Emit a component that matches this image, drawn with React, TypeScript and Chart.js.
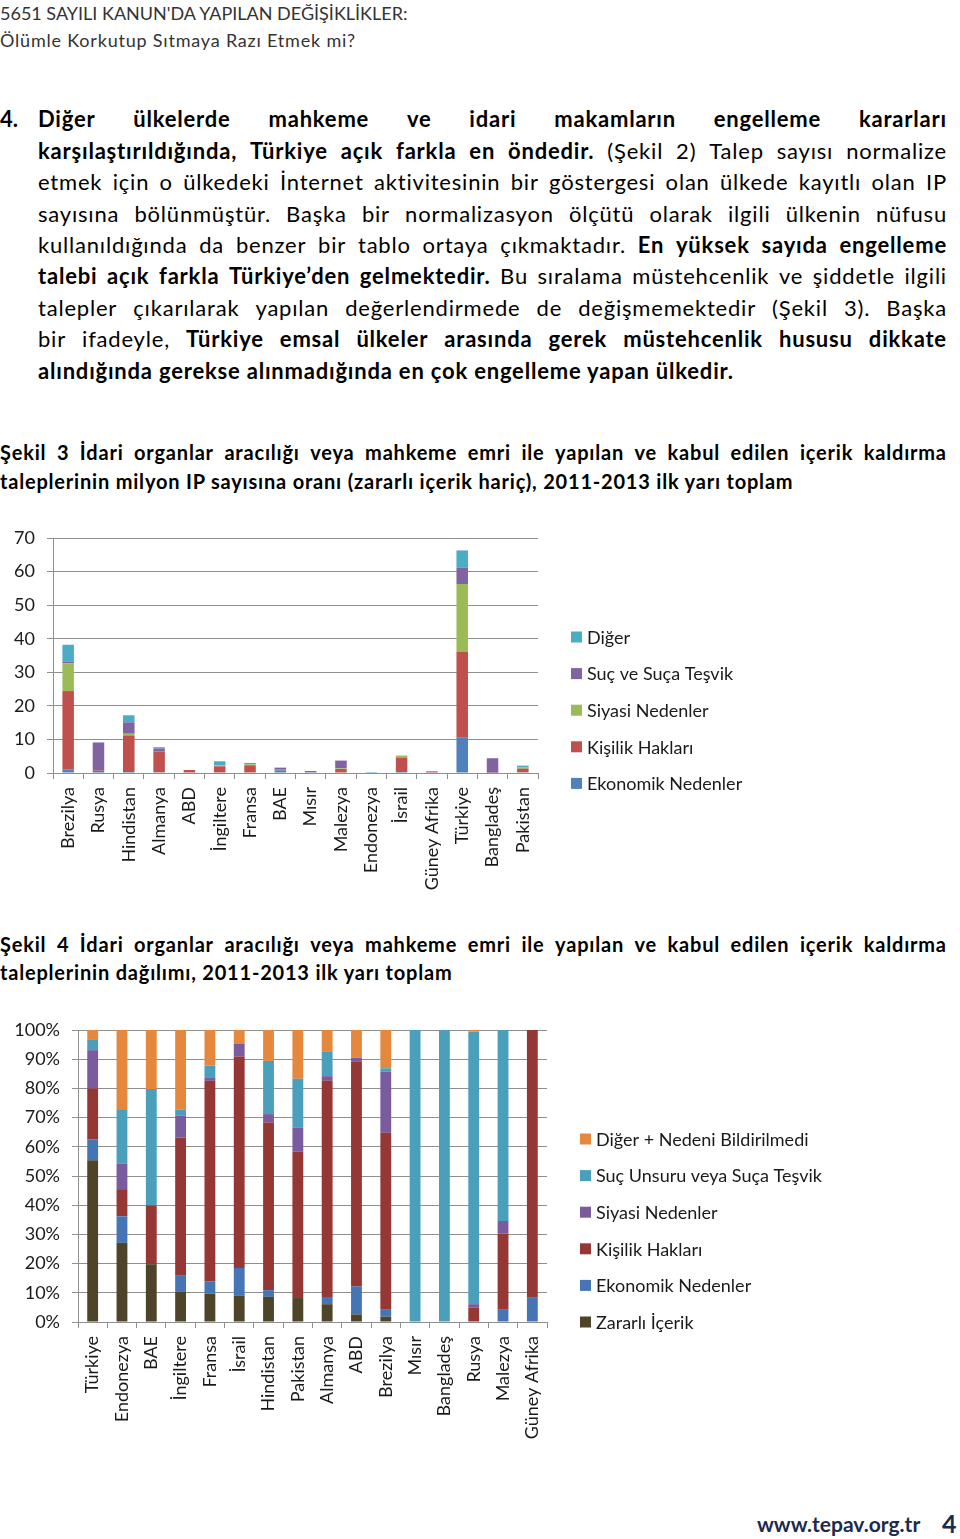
import React, { useEffect, useRef } from "react";
import { Chart, registerables } from "chart.js";

Chart.register(...registerables);

// ---------- Şekil 3 data ----------
const FIG3_CATEGORIES = [
  "Brezilya", "Rusya", "Hindistan", "Almanya", "ABD", "İngiltere", "Fransa", "BAE",
  "Mısır", "Malezya", "Endonezya", "İsrail", "Güney Afrika", "Türkiye", "Bangladeş", "Pakistan",
];
const FIG3_EKONOMIK = [1.0, 0.3, 0.3, 0.2, 0, 0, 0, 0.8, 0.2, 0, 0, 0.3, 0, 10.5, 0, 0.2];
const FIG3_KISILIK = [23.4, 0.4, 10.9, 6.2, 0.9, 2.0, 2.3, 0.2, 0, 1.2, 0, 4.3, 0.5, 25.7, 0.1, 1.1];
const FIG3_SIYASI = [8.3, 0, 0.5, 0, 0, 0.3, 0.3, 0, 0, 0.2, 0, 0.6, 0, 20.1, 0, 0.3];
const FIG3_SUC = [0.4, 8.4, 3.4, 0.9, 0, 0, 0, 0.6, 0.4, 2.3, 0, 0, 0, 4.9, 4.3, 0];
const FIG3_DIGER = [5.1, 0, 2.1, 0.4, 0, 1.2, 0.4, 0, 0, 0, 0.3, 0, 0, 5.1, 0, 0.6];
const FIG3_Y_TICKS = [0, 10, 20, 30, 40, 50, 60, 70];

// ---------- Şekil 4 data (percent) ----------
const FIG4_CATEGORIES = [
  "Türkiye", "Endonezya", "BAE", "İngiltere", "Fransa", "İsrail", "Hindistan", "Pakistan",
  "Almanya", "ABD", "Brezilya", "Mısır", "Bangladeş", "Rusya", "Malezya", "Güney Afrika",
];
const FIG4_ZARARLI = [55.4, 27.1, 19.8, 10.3, 9.7, 9.1, 8.6, 8.2, 6.1, 2.6, 1.8, 0, 0, 0, 0, 0];
const FIG4_EKONOMIK = [7.2, 9.1, 0, 5.5, 4.2, 9.4, 2.3, 0, 2.5, 9.6, 2.4, 0, 0, 0, 4.2, 8.3];
const FIG4_KISILIK = [17.4, 9.3, 20.1, 47.4, 68.7, 72.4, 57.4, 50.1, 74.0, 76.9, 60.6, 0, 0, 4.9, 26.1, 91.7];
const FIG4_SIYASI = [13.1, 8.8, 0, 7.5, 1.2, 4.3, 2.9, 8.2, 1.6, 1.4, 20.9, 0, 0, 1.2, 4.3, 0];
const FIG4_SUC = [3.5, 18.3, 39.9, 2.1, 4.0, 0, 18.2, 16.8, 8.3, 0, 1.2, 100, 100, 93.4, 65.4, 0];
const FIG4_DIGER = [3.4, 27.4, 20.2, 27.2, 12.2, 4.8, 10.6, 16.7, 7.5, 9.5, 13.1, 0, 0, 0.5, 0, 0];
const FIG4_Y_TICKS = [0, 10, 20, 30, 40, 50, 60, 70, 80, 90, 100];

// ---------- text ----------
type Seg = [string, boolean];
const HEADER_1 = "5651 SAYILI KANUN'DA YAPILAN DEĞİŞİKLİKLER:";
const HEADER_2 = "Ölümle Korkutup Sıtmaya Razı Etmek mi?";
const BODY_LINES: Seg[][] = [
  [["Diğer ülkelerde mahkeme ve idari makamların engelleme kararları", true]],
  [["karşılaştırıldığında, Türkiye açık farkla en öndedir.", true], ["(Şekil 2) Talep sayısı normalize", false]],
  [["etmek için o ülkedeki İnternet aktivitesinin bir göstergesi olan ülkede kayıtlı olan IP", false]],
  [["sayısına bölünmüştür. Başka bir normalizasyon ölçütü olarak ilgili ülkenin nüfusu", false]],
  [["kullanıldığında da benzer bir tablo ortaya çıkmaktadır.", false], ["En yüksek sayıda engelleme", true]],
  [["talebi açık farkla Türkiye’den gelmektedir.", true], ["Bu sıralama müstehcenlik ve şiddetle ilgili", false]],
  [["talepler çıkarılarak yapılan değerlendirmede de değişmemektedir (Şekil 3). Başka", false]],
  [["bir ifadeyle,", false], ["Türkiye emsal ülkeler arasında gerek müstehcenlik hususu dikkate", true]],
  [["alındığında gerekse alınmadığında en çok engelleme yapan ülkedir.", true]],
];
const CAPTION_3 = [
  "Şekil 3 İdari organlar aracılığı veya mahkeme emri ile yapılan ve kabul edilen içerik kaldırma",
  "taleplerinin milyon IP sayısına oranı (zararlı içerik hariç), 2011-2013 ilk yarı toplam",
];
const CAPTION_4 = [
  "Şekil 4 İdari organlar aracılığı veya mahkeme emri ile yapılan ve kabul edilen içerik kaldırma",
  "taleplerinin dağılımı, 2011-2013 ilk yarı toplam",
];

const GRID = "#8f8f8f";
const TICK_COLOR = "#1a1a1a";
const FONT = "Lato";

const sideLegend = {
  id: "sideLegend",
  afterDraw(chart: any, _args: any, opts: any) {
    const ctx = chart.ctx;
    const ds = chart.data.datasets.slice().reverse();
    ctx.save();
    ctx.font = `${opts.size}px ${FONT}`;
    ctx.textBaseline = "middle";
    ctx.textAlign = "left";
    ds.forEach((d: any, i: number) => {
      const y = opts.y + i * opts.gap;
      ctx.fillStyle = d.backgroundColor;
      ctx.fillRect(opts.x, y - opts.box / 2, opts.box, opts.box);
      ctx.fillStyle = opts.color;
      ctx.fillText(d.label, opts.x + opts.box + opts.textGap, y + 1);
    });
    ctx.restore();
  },
};

function makeConfig(p: {
  labels: string[];
  datasets: any[];
  yTicks: number[];
  suffix: string;
  padTop: number;
  padRight: number;
  yWidth: number;
  xHeight: number;
  barPct: number;
  legend: any;
}) {
  const yMin = p.yTicks[0];
  const yMax = p.yTicks[p.yTicks.length - 1];
  return {
    type: "bar" as const,
    data: { labels: p.labels, datasets: p.datasets },
    options: {
      responsive: false,
      animation: false,
      layout: { padding: { top: p.padTop, right: p.padRight, left: 0, bottom: 0 } },
      datasets: { bar: { categoryPercentage: 1, barPercentage: p.barPct, borderWidth: 0 } },
      plugins: {
        legend: { display: false },
        tooltip: { enabled: false },
        sideLegend: p.legend,
      },
      scales: {
        x: {
          stacked: true,
          grid: { display: true, drawOnChartArea: false, drawTicks: true, tickLength: 6, color: GRID, offset: true },
          border: { display: true, color: GRID, width: 1 },
          ticks: {
            autoSkip: false,
            maxRotation: 90,
            minRotation: 90,
            padding: 8,
            color: TICK_COLOR,
            font: { family: FONT, size: 18 },
          },
          afterFit: (s: any) => {
            s.height = p.xHeight;
            s.paddingLeft = 0;
            s.paddingRight = 0;
          },
        },
        y: {
          stacked: true,
          min: yMin,
          max: yMax,
          afterBuildTicks: (s: any) => {
            s.ticks = p.yTicks.map((v) => ({ value: v }));
          },
          ticks: {
            padding: 12,
            color: TICK_COLOR,
            font: { family: FONT, size: 18 },
            callback: (v: any) => `${v}${p.suffix}`,
          },
          grid: { color: GRID, tickLength: 6, drawTicks: true },
          border: { display: true, color: GRID, width: 1 },
          afterFit: (s: any) => {
            s.width = p.yWidth;
            s.paddingTop = 0;
            s.paddingBottom = 0;
          },
        },
      },
    },
    plugins: [sideLegend],
  };
}

function ChartBox({ config, left, top, width, height }: any) {
  const ref = useRef<HTMLCanvasElement>(null);
  useEffect(() => {
    const chart = new Chart(ref.current as HTMLCanvasElement, config);
    return () => chart.destroy();
  }, []);
  return (
    <canvas
      ref={ref}
      width={width}
      height={height}
      style={{ position: "absolute", left, top, width, height }}
    />
  );
}

function JustLine({ segs, left, top, width, size, lh, justify, ls = 0 }: any) {
  if (justify) {
    const words: Seg[] = [];
    (segs as Seg[]).forEach(([t, b]) =>
      t.split(" ").filter(Boolean).forEach((w) => words.push([w, b]))
    );
    return (
      <div
        style={{
          position: "absolute", left, top, width, height: lh, lineHeight: `${lh}px`,
          display: "flex", justifyContent: "space-between", whiteSpace: "nowrap", fontSize: size,
          letterSpacing: ls,
        }}
      >
        {words.map(([w, b], i) => (
          <span key={i} style={{ fontWeight: b ? 700 : 400 }}>{w}</span>
        ))}
      </div>
    );
  }
  return (
    <div style={{ position: "absolute", left, top, height: lh, lineHeight: `${lh}px`, whiteSpace: "pre", fontSize: size, letterSpacing: ls }}>
      {(segs as Seg[]).map(([t, b], i) => (
        <span key={i} style={{ fontWeight: b ? 700 : 400 }}>{(i > 0 ? " " : "") + t}</span>
      ))}
    </div>
  );
}

export default function App() {
  const fig3 = makeConfig({
    labels: FIG3_CATEGORIES,
    datasets: [
      { label: "Ekonomik Nedenler", data: FIG3_EKONOMIK, backgroundColor: "#4f81bd" },
      { label: "Kişilik Hakları", data: FIG3_KISILIK, backgroundColor: "#c0504d" },
      { label: "Siyasi Nedenler", data: FIG3_SIYASI, backgroundColor: "#9bbb59" },
      { label: "Suç ve Suça Teşvik", data: FIG3_SUC, backgroundColor: "#8064a2" },
      { label: "Diğer", data: FIG3_DIGER, backgroundColor: "#4bacc6" },
    ],
    yTicks: FIG3_Y_TICKS,
    suffix: "",
    padTop: 18,
    padRight: 422,
    yWidth: 53,
    xHeight: 127,
    barPct: 0.38,
    legend: { x: 571, y: 117, gap: 36.6, box: 11, textGap: 5, size: 18, color: TICK_COLOR },
  });
  const fig4 = makeConfig({
    labels: FIG4_CATEGORIES,
    datasets: [
      { label: "Zararlı İçerik", data: FIG4_ZARARLI, backgroundColor: "#4d4429" },
      { label: "Ekonomik Nedenler", data: FIG4_EKONOMIK, backgroundColor: "#4675b5" },
      { label: "Kişilik Hakları", data: FIG4_KISILIK, backgroundColor: "#953735" },
      { label: "Siyasi Nedenler", data: FIG4_SIYASI, backgroundColor: "#7a5c9e" },
      { label: "Suç Unsuru veya Suça Teşvik", data: FIG4_SUC, backgroundColor: "#4a9fbb" },
      { label: "Diğer + Nedeni Bildirilmedi", data: FIG4_DIGER, backgroundColor: "#e5883d" },
    ],
    yTicks: FIG4_Y_TICKS,
    suffix: "%",
    padTop: 20,
    padRight: 413,
    yWidth: 78,
    xHeight: 128,
    barPct: 0.37,
    legend: { x: 580, y: 129, gap: 36.6, box: 11, textGap: 5, size: 18, color: TICK_COLOR },
  });

  const bodyLH = 31.4;
  const bodyTop = 119 - bodyLH / 2;

  return (
    <div
      style={{
        position: "absolute", left: 0, top: 0, width: 960, height: 1539, background: "#fff",
        fontFamily: FONT, color: "#000", overflow: "hidden",
      }}
    >
      <div style={{ position: "absolute", left: 0, top: 2, fontSize: 18, lineHeight: "22px", color: "#333", whiteSpace: "nowrap" }}>
        {HEADER_1}
      </div>
      <div style={{ position: "absolute", left: 0, top: 29, fontSize: 18, lineHeight: "22px", color: "#333", whiteSpace: "nowrap", letterSpacing: 0.8 }}>
        {HEADER_2}
      </div>

      <div style={{ position: "absolute", left: 0, top: bodyTop, fontSize: 22, lineHeight: `${bodyLH}px`, fontWeight: 700 }}>4.</div>
      {BODY_LINES.map((segs, i) => (
        <JustLine
          key={i}
          segs={segs}
          left={38}
          top={bodyTop + i * bodyLH}
          width={909}
          size={22}
          lh={bodyLH}
          ls={0.8}
          justify={i < BODY_LINES.length - 1}
        />
      ))}

      <JustLine segs={[[CAPTION_3[0], true]]} left={0} top={452 - 14.5} width={947} size={20} lh={29} ls={0.8} justify />
      <JustLine segs={[[CAPTION_3[1], true]]} left={0} top={481 - 14.5} width={947} size={20} lh={29} ls={0.8} justify={false} />

      <ChartBox config={fig3} left={0} top={520} width={960} height={380} />

      <JustLine segs={[[CAPTION_4[0], true]]} left={0} top={944 - 14.5} width={947} size={20} lh={29} ls={0.8} justify />
      <JustLine segs={[[CAPTION_4[1], true]]} left={0} top={972 - 14.5} width={947} size={20} lh={29} ls={0.8} justify={false} />

      <ChartBox config={fig4} left={0} top={1010} width={960} height={440} />

      <div style={{ position: "absolute", left: 757, top: 1511, fontSize: 21, lineHeight: "26px", fontWeight: 700, color: "#1c2a4d", whiteSpace: "nowrap" }}>
        www.tepav.org.tr
      </div>
      <div style={{ position: "absolute", left: 942, top: 1508, fontSize: 25, lineHeight: "30px", fontWeight: 700, color: "#1c2a4d" }}>
        4
      </div>
    </div>
  );
}
